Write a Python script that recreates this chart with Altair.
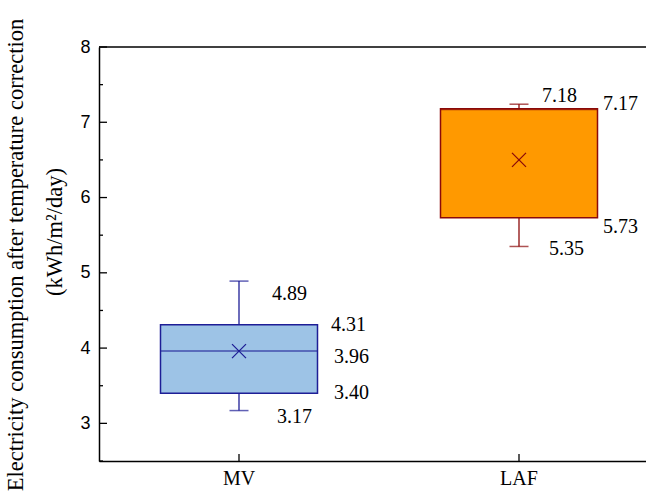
import altair as alt
import pandas as pd

# ---- data ----
cats = ["MV", "LAF"]
whisker_low = [3.17, 5.35]
q1 = [3.40, 5.73]
median = [3.96, 7.17]
q3 = [4.31, 7.18]
whisker_high = [4.89, 7.24]
mean = [3.96, 6.50]

label_cat = ["MV", "MV", "MV", "MV", "MV", "LAF", "LAF", "LAF", "LAF"]
label_value = [4.89, 4.31, 3.96, 3.40, 3.17, 7.18, 7.17, 5.73, 5.35]
label_text = ["4.89", "4.31", "3.96", "3.40", "3.17", "7.18", "7.17", "5.73", "5.35"]

y_major = [3, 4, 5, 6, 7, 8]
y_minor = [2.5, 3.5, 4.5, 5.5, 6.5, 7.5]

title_line1 = "Electricity consumption after temperature correction"
title_line2 = "(kWh/m²/day)"

# ---- styles ----
fill_colors = ["#9DC3E6", "#FF9900"]
line_colors = ["#1E1E96", "#8B0A0A"]
# label offsets in pixels: dx from the category band start, dy downwards
label_dx = [173, 232, 235, 235, 178, 163, 224, 224, 170]
label_dy = [13, 0, 6, 0, 6, -13, -5, 9, 3]

W, H = 547, 414
Y_MIN, Y_MAX = 2.5, 8
serif = "Liberation Serif"
sans = "Liberation Sans"

df = pd.DataFrame({
    "cat": cats, "low": whisker_low, "q1": q1, "med": median, "q3": q3,
    "high": whisker_high, "mean": mean,
    "fill": fill_colors, "line": line_colors,
})
labels = pd.DataFrame({
    "cat": label_cat, "value": label_value, "text": label_text,
    "dx": label_dx, "dy": label_dy,
})
majors = pd.DataFrame({"v": y_major})
minors = pd.DataFrame({"v": y_minor})

xs = alt.Scale(domain=cats, range=[0, 560], paddingInner=0, paddingOuter=0)
ys = alt.Scale(domain=[Y_MIN, Y_MAX], nice=False, zero=False)

X = alt.X("cat:N", scale=xs, sort=cats,
          axis=alt.Axis(title=None, labelAngle=0, ticks=False, labelFont=serif,
                        labelFontSize=20, labelColor="black", labelPadding=7,
                        domainColor="black", domainWidth=1.5))
Y_axis = alt.Axis(title=None, values=y_major, format="d", ticks=False, grid=False,
                  labelFont=sans, labelFontSize=18, labelColor="black",
                  labelPadding=9, domainColor="black", domainWidth=1.5)

base = alt.Chart(df)

whiskers = base.mark_rule(strokeWidth=1.3).encode(
    x=X,
    y=alt.Y("low:Q", scale=ys, axis=Y_axis),
    y2="high:Q",
    color=alt.Color("line:N", scale=None),
)
cap_low = base.mark_tick(size=19, thickness=1.5).encode(
    x="cat:N", y="low:Q", color=alt.Color("line:N", scale=None))
cap_high = base.mark_tick(size=19, thickness=1.5).encode(
    x="cat:N", y="high:Q", color=alt.Color("line:N", scale=None))
box = base.mark_bar(size=157, strokeWidth=1.5).encode(
    x="cat:N", y="q1:Q", y2="q3:Q",
    fill=alt.Fill("fill:N", scale=None),
    stroke=alt.Stroke("line:N", scale=None),
)
med = base.mark_tick(size=157, thickness=1.5).encode(
    x="cat:N", y="med:Q", color=alt.Color("line:N", scale=None))
mean_pt = base.mark_point(shape="M-1,-1L1,1M-1,1L1,-1", size=196,
                          filled=False, strokeWidth=1.3, opacity=1).encode(
    x="cat:N", y="mean:Q", color=alt.Color("line:N", scale=None))

text = alt.Chart(labels).transform_calculate(
    ypos=f"datum.value - datum.dy * {(Y_MAX - Y_MIN) / H}"
).mark_text(align="left", baseline="middle", font=serif,
            fontSize=20, color="black").encode(
    x="cat:N", y="ypos:Q", text="text:N",
    xOffset=alt.XOffset("dx:Q", scale=None),
)

major_ticks = alt.Chart(majors).mark_rule(color="black", strokeWidth=1.3).encode(
    y="v:Q", x=alt.value(0), x2=alt.value(8))
minor_ticks = alt.Chart(minors).mark_rule(color="black", strokeWidth=1.3).encode(
    y="v:Q", x=alt.value(0), x2=alt.value(4))
x_ticks = base.mark_rule(color="black", strokeWidth=1.3).encode(
    x="cat:N", y=alt.value(H), y2=alt.value(H - 7))
top_line = alt.Chart(pd.DataFrame({"a": [0]})).mark_rule(
    color="black", strokeWidth=1.5).encode(
    y=alt.value(0), x=alt.value(0), x2=alt.value(560))

t1 = alt.Chart(pd.DataFrame({"t": [title_line1]})).mark_text(
    angle=270, font=serif, fontSize=22.5, color="black", baseline="middle",
    align="center").encode(text="t:N", x=alt.value(-83), y=alt.value(208))
t2 = alt.Chart(pd.DataFrame({"t": [title_line2]})).mark_text(
    angle=270, font=serif, fontSize=22.5, color="black", baseline="middle",
    align="center").encode(text="t:N", x=alt.value(-44), y=alt.value(185))

chart = alt.layer(
    whiskers, cap_low, cap_high, box, med, mean_pt, text,
    major_ticks, minor_ticks, x_ticks, top_line, t1, t2,
).properties(
    width=W, height=H,
    autosize=alt.AutoSizeParams(type="none"),
    padding={"left": 99, "top": 47, "right": 0, "bottom": 40},
    background="white",
).configure_view(stroke=None)

chart.save("out.html", embed_options={"renderer": "svg", "actions": False})
